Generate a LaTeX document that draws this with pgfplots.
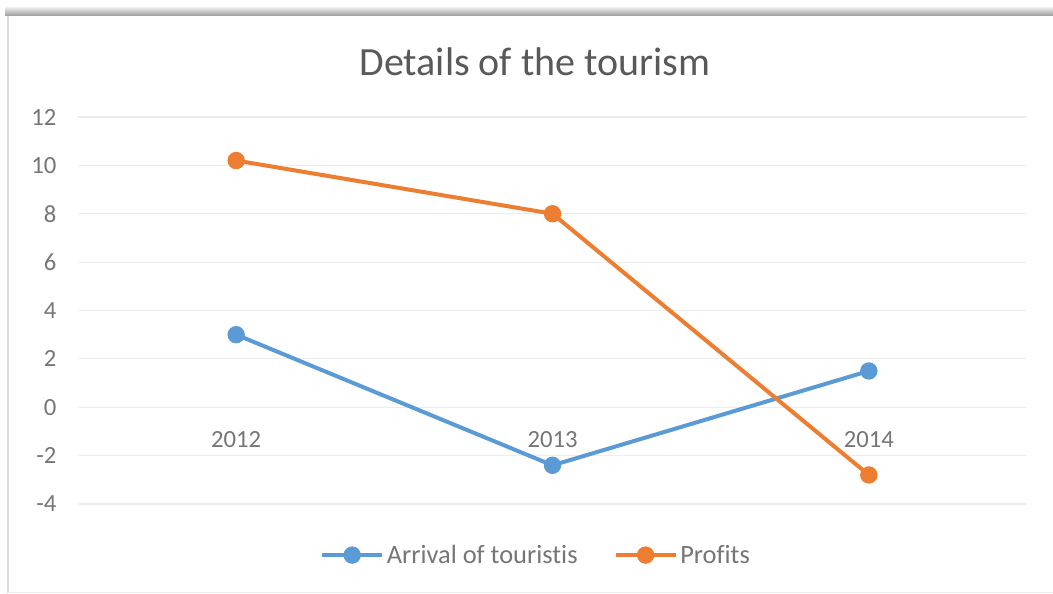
\documentclass[border=0pt]{standalone}
\usepackage{pgfplots}
\pgfplotsset{compat=1.18}
\usepackage{fontspec}
\setmainfont{Carlito}[Ligatures=NoCommon]
\definecolor{arrblue}{HTML}{5B9BD5}
\definecolor{profor}{HTML}{ED7D31}
\definecolor{titlegray}{HTML}{595959}
\definecolor{txtgray}{HTML}{767676}
\definecolor{gridgray}{HTML}{EDEDED}

\begin{document}
\begin{tikzpicture}[x=0.75pt,y=0.75pt]
% page = 1053 x 593 px, 1px = 0.75pt
\useasboundingbox (0,0) rectangle (1053,593);
\fill[white] (0,0) rectangle (1053,593);
% frame and top shadow
\shade[top color=gray!20, bottom color=gray!80] (5,577) rectangle (1053,585);
\draw[gray!30, line width=1.2pt] (8,0) -- (8,577);
\draw[gray!15] (8,1) -- (1053,1);

\node[text=titlegray, font=\fontsize{30}{34}\selectfont] at (535,531) {Details of the tourism};

\begin{axis}[
    at={(58.5pt,66.75pt)}, anchor=south west,
    scale only axis,
    width=711.75pt, height=290.25pt,
    xmin=-0.5, xmax=2.5,
    ymin=-4, ymax=12,
    xtick={0,1,2},
    xticklabels={2012,2013,2014},
    ytick={-4,-2,0,2,4,6,8,10,12},
    yticklabels={-4,-2,0,2,4,6,8,10,12},
    axis line style={draw=none},
    major tick length=0pt,
    ymajorgrids=true,
    grid style={gridgray, line width=0.8pt},
    tick label style={text=txtgray, font=\fontsize{18.5}{20}\selectfont},
    yticklabel style={anchor=east, inner sep=0pt, xshift=-16pt},
    xticklabel style={anchor=center, inner sep=0pt, yshift=48pt},
    legend columns=2,
    legend style={draw=none, fill=none, at={(0.483,-0.132)}, anchor=center,
        font=\fontsize{19.8}{22}\selectfont, text=txtgray,
        /tikz/every even column/.append style={column sep=25pt},
        inner sep=0pt, cells={anchor=west}},
    legend image code/.code={%
        \draw[mark repeat=2,mark phase=2] plot coordinates {(0pt,0pt)(22.5pt,0pt)(45pt,0pt)};},
]

\addplot[color=arrblue, line width=3pt, mark=*, mark size=5pt, mark options={solid}]
  coordinates {
    (0, 3.0)
    (1, -2.4)
    (2, 1.5)
};
\addlegendentry{Arrival of touristis}

\addplot[color=profor, line width=3pt, mark=*, mark size=5pt, mark options={solid}]
  coordinates {
    (0, 10.2)
    (1, 8.0)
    (2, -2.8)
};
\addlegendentry{Profits}

\end{axis}
\end{tikzpicture}
\end{document}
